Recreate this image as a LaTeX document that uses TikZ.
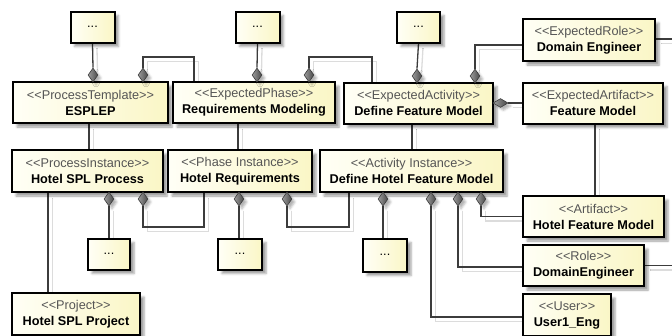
\documentclass[tikz,border=0pt]{standalone}
\usepackage{fontspec}
\setmainfont{Liberation Sans}
\usetikzlibrary{shapes.geometric,shadows.blur,backgrounds}

\definecolor{boxL}{HTML}{FFFFF6}
\definecolor{boxR}{HTML}{FAF6C6}
\definecolor{linec}{HTML}{3C3C3C}
\definecolor{lineshade}{HTML}{DCDCDC}
\definecolor{stereoc}{HTML}{555555}
\definecolor{diaL}{HTML}{9C9C9C}
\definecolor{diaR}{HTML}{484848}

\newcommand\stereo[1]{{\color{stereoc}<{}<#1>{}>}}

\tikzset{
  cls/.style={draw=black, line width=2pt, left color=boxL, right color=boxR,
    inner sep=0pt, align=center, font=\fontsize{12.7}{16}\selectfont,
    minimum height=41pt,
    blur shadow={shadow xshift=4pt, shadow yshift=-4pt, shadow opacity=38,
      shadow blur steps=4}},
  dots/.style={cls, minimum width=44pt, minimum height=31pt},
  vdia/.style={diamond, draw=linec, line width=0.6pt, left color=diaL, right color=diaR,
    inner sep=0pt, minimum width=10pt, minimum height=14pt,
    blur shadow={shadow xshift=3pt, shadow yshift=-3pt, shadow opacity=30,
      shadow blur steps=3}},
  hdia/.style={vdia, minimum width=15pt, minimum height=9pt},
  conn/.style={draw=linec, line width=1.3pt,
    preaction={draw=lineshade, line width=1.3pt,
      transform canvas={shift={(4.5pt,-4.5pt)}}}},
}

\begin{document}
\begin{tikzpicture}[x=1pt, y=-1pt]
\useasboundingbox (0,0) rectangle (672,335);
\clip (0,0) rectangle (672,335);

% template level
\node[dots] (d1) at (92.5,27) {...};
\node[dots] (d2) at (257.5,27) {...};
\node[dots, minimum width=43pt] (d3) at (418.5,27) {...};
\node[cls, minimum width=132pt, minimum height=42pt] (er) at (589,40)
  {\stereo{ExpectedRole}\\\textbf{Domain Engineer}};
\node[cls, minimum width=155pt] (pt) at (90.5,102.5)
  {\stereo{ProcessTemplate}\\\textbf{ESPLEP}};
\node[cls, minimum width=162pt] (ep) at (254,102.5)
  {\stereo{ExpectedPhase}\\\textbf{Requirements Modeling}};
\node[cls, minimum width=149pt] (ea) at (418.5,103)
  {\stereo{ExpectedActivity}\\\textbf{Define Feature Model}};
\node[cls, minimum width=140pt] (eart) at (593,103)
  {\stereo{ExpectedArtifact}\\\textbf{Feature Model}};

% instance level
\node[cls, minimum width=151pt, minimum height=42pt] (pi) at (87.5,171)
  {\stereo{ProcessInstance}\\\textbf{Hotel SPL Process}};
\node[cls, minimum width=144pt, minimum height=42pt] (phi) at (240,171)
  {\stereo{Phase Instance}\\\textbf{Hotel Requirements}};
\node[cls, minimum width=183pt, minimum height=42pt] (ai) at (411.5,171)
  {\stereo{Activity Instance}\\\textbf{Define Hotel Feature Model}};
\node[cls, minimum width=141pt] (art) at (593.5,216.5)
  {\stereo{Artifact}\\\textbf{Hotel Feature Model}};
\node[cls, minimum width=121pt] (role) at (583.5,265.5)
  {\stereo{Role}\\\textbf{DomainEngineer}};
\node[cls, minimum width=88pt, minimum height=42pt] (user) at (567,315)
  {\stereo{User}\\\textbf{User1\_Eng}};
\node[cls, minimum width=128pt, minimum height=42pt] (prj) at (76,314)
  {\stereo{Project}\\\textbf{Hotel SPL Project}};
\node[dots, minimum width=42pt] (d4) at (109,254) {...};
\node[dots] (d5) at (240,254) {...};
\node[dots, minimum height=33pt] (d6) at (385,255) {...};

% composition diamonds
\node[vdia] (pta) at (93,75) {};
\node[vdia] (ptb) at (143,75) {};
\node[vdia] (epa) at (257,75) {};
\node[vdia] (epb) at (309,75) {};
\node[vdia] (eaa) at (417,76) {};
\node[vdia] (eab) at (475,76) {};
\node[hdia] (eah) at (500.5,103) {};
\node[vdia] (pia) at (109,199) {};
\node[vdia] (pib) at (143,199) {};
\node[vdia] (pha) at (239,199) {};
\node[vdia] (phb) at (287,199) {};
\node[vdia] (aia) at (383,199) {};
\node[vdia] (aib) at (431,199) {};
\node[vdia] (aic) at (458,199) {};
\node[vdia] (aid) at (481,199) {};

% bend points and the free right edge
\coordinate (k1) at (194,57);
\coordinate (k2) at (372,57);
\coordinate (k5) at (204,227);
\coordinate (k6) at (349,227);
\coordinate (kx) at (48,0);
\coordinate (edgeR) at (672,0);

\begin{pgfonlayer}{background}
  \draw[conn] (d1.south) -- (pta.north);
  \draw[conn] (ptb.north) |- (k1) -- (k1 |- ep.north);
  \draw[conn] (d2.south) -- (epa.north);
  \draw[conn] (epb.north) |- (k2) -- (k2 |- ea.north);
  \draw[conn] (d3.south) -- (eaa.north);
  \draw[conn] (eab.north) |- ([yshift=-5pt]er.west);
  \draw[conn] (eah.east) -- (eart.west);
  \draw[conn] ([yshift=1pt]er.east) -- ([yshift=1pt]er.east -| edgeR);

  \draw[conn] ([xshift=-1.5pt]pt.south) -- ([xshift=1.5pt]pi.north);
  \draw[conn] ([xshift=-16pt]ep.south) -- ([xshift=-2pt]phi.north);
  \draw[conn] ([xshift=-6.5pt]ea.south) -- ([xshift=0.5pt]ai.north);
  \draw[conn] ([xshift=2pt]eart.south) -- ([xshift=1.5pt]art.north);

  \draw[conn] (pia.south) -- (pia.south |- d4.north);
  \draw[conn] (pib.south) |- (k5) -- (k5 |- phi.south);
  \draw[conn] (pha.south) -- (pha.south |- d5.north);
  \draw[conn] (phb.south) |- (k6) -- (k6 |- ai.south);
  \draw[conn] (aia.south) -- (aia.south |- d6.north);
  \draw[conn] (aib.south) |- ([yshift=-2pt]user.west);
  \draw[conn] (aic.south) |- ([yshift=-1.5pt]role.west);
  \draw[conn] (aid.south) |- (art.west);
  \draw[conn] (role.east) -- (role.east -| edgeR);
  \draw[conn] (pi.south -| kx) -- (prj.north -| kx);
\end{pgfonlayer}
\end{tikzpicture}
\end{document}
